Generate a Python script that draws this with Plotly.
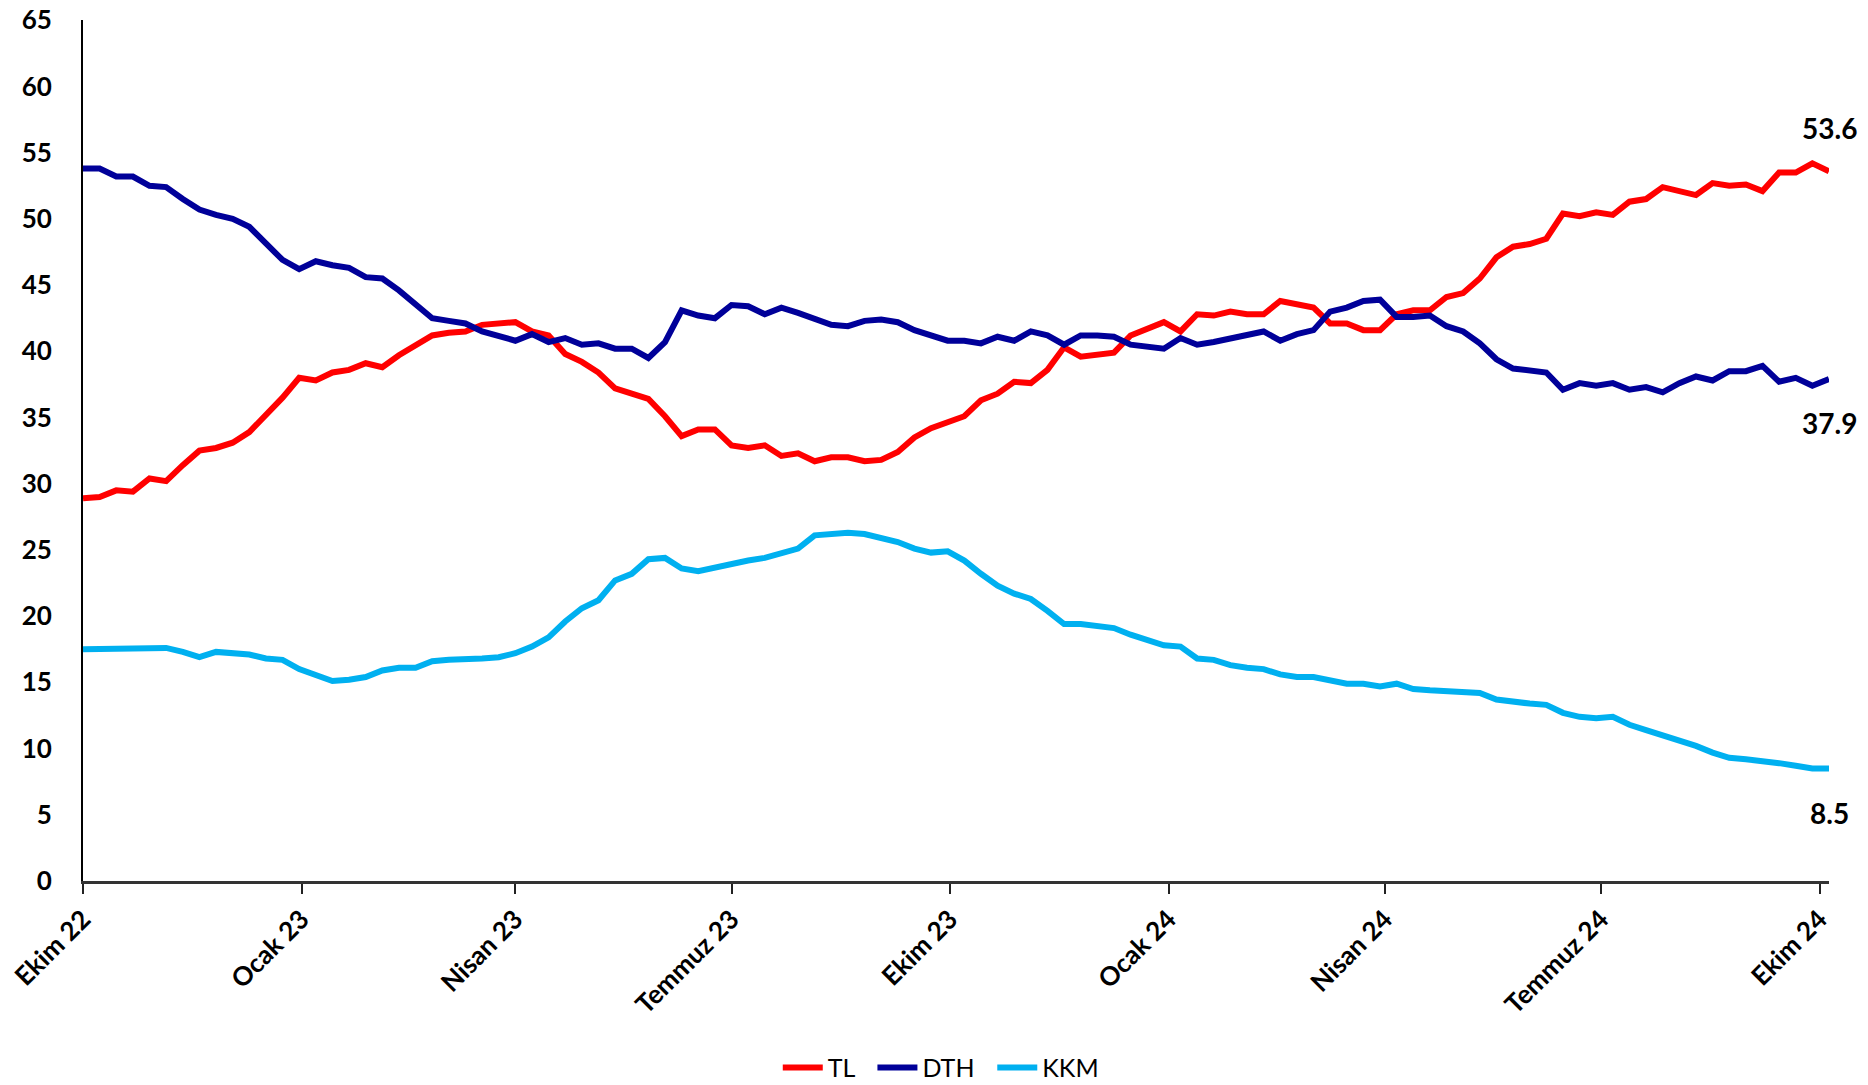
import pandas as pd
import plotly.graph_objects as go

# Weekly observations, Oct 2022 - Oct 2024 (share, %)
dates = pd.date_range("2022-10-01", periods=106, freq="7D")

tl = [28.9, 29.0, 29.5, 29.4, 30.4, 30.2, 31.4, 32.5, 32.7, 33.1, 33.9, 35.2, 36.5, 38.0, 37.8, 38.4,
      38.6, 39.1, 38.8, 39.7, 40.5, 41.2, 41.4, 41.5, 42.0, 42.1, 42.2,
      41.5, 41.2, 39.8, 39.2, 38.4, 37.2, 36.8, 36.4, 35.1, 33.6, 34.1, 34.1, 32.9, 32.7, 32.9,
      32.1, 32.3, 31.7, 32.0, 32.0, 31.7, 31.8, 32.4, 33.5, 34.2, 34.6,
      35.1, 36.3, 36.8, 37.7, 37.6, 38.6, 40.3, 39.6, 39.7, 39.9, 41.2, 41.7, 42.2, 41.5, 42.8,
      42.7, 43.0, 42.8, 42.8, 43.8, 43.5, 43.3, 42.1, 42.1, 41.6, 41.6,
      42.8, 43.1, 43.1, 44.1, 44.4, 45.5, 47.1, 47.9, 48.1, 48.5, 50.4, 50.2, 50.5, 50.3, 51.3,
      51.5, 52.4, 52.1, 51.8, 52.7, 52.5, 52.6, 52.1, 53.5, 53.5, 54.2, 53.6]

dth = [53.8, 53.8, 53.2, 53.2, 52.5, 52.4, 51.5, 50.7, 50.3, 50.0, 49.4, 48.2, 46.9, 46.2, 46.8, 46.5,
       46.3, 45.6, 45.5, 44.6, 43.6, 42.5, 42.3, 42.1, 41.5, 41.2, 40.8,
       41.3, 40.7, 41.0, 40.5, 40.6, 40.2, 40.2, 39.5, 40.7, 43.1, 42.7, 42.5, 43.5, 43.4, 42.8,
       43.3, 42.9, 42.4, 42.0, 41.9, 42.3, 42.4, 42.2, 41.6, 41.2, 40.8,
       40.8, 40.6, 41.1, 40.8, 41.5, 41.2, 40.5, 41.2, 41.2, 41.1, 40.5, 40.3, 40.2, 41.0, 40.5,
       40.7, 41.0, 41.3, 41.5, 40.8, 41.3, 41.6, 43.0, 43.3, 43.8, 43.9,
       42.6, 42.6, 42.7, 41.9, 41.5, 40.6, 39.4, 38.7, 38.6, 38.4, 37.1, 37.6, 37.4, 37.6, 37.1,
       37.3, 36.9, 37.6, 38.1, 37.8, 38.5, 38.5, 38.9, 37.7, 38.0, 37.4, 37.9]

kkm = [17.5, 17.5, 17.5, 17.6, 17.5, 17.6, 17.3, 16.9, 17.3, 17.2, 17.1, 16.8, 16.7, 16.0, 15.5, 15.1,
       15.2, 15.4, 15.9, 16.1, 16.1, 16.6, 16.7, 16.7, 16.8, 16.9, 17.2,
       17.7, 18.4, 19.6, 20.6, 21.2, 22.7, 23.2, 24.3, 24.4, 23.6, 23.4, 23.7, 23.9, 24.2, 24.4,
       24.8, 25.1, 26.1, 26.2, 26.3, 26.2, 25.9, 25.6, 25.1, 24.8, 24.9,
       24.2, 23.2, 22.3, 21.7, 21.3, 20.4, 19.4, 19.4, 19.2, 19.1, 18.6, 18.2, 17.8, 17.7, 16.8,
       16.7, 16.3, 16.1, 16.0, 15.6, 15.4, 15.4, 15.1, 14.9, 14.9, 14.7,
       14.9, 14.5, 14.4, 14.3, 14.3, 14.2, 13.7, 13.5, 13.4, 13.3, 12.7, 12.4, 12.3, 12.4, 11.8,
       11.4, 11.0, 10.7, 10.2, 9.7, 9.3, 9.2, 9.1, 8.9, 8.7, 8.5, 8.5]

tick_dates = ["2022-10-01", "2023-01-01", "2023-04-01", "2023-07-01", "2023-10-01",
              "2024-01-01", "2024-04-01", "2024-07-01", "2024-10-01"]
tick_labels = ["Ekim 22", "Ocak 23", "Nisan 23", "Temmuz 23", "Ekim 23",
               "Ocak 24", "Nisan 24", "Temmuz 24", "Ekim 24"]
y_ticks = [0, 5, 10, 15, 20, 25, 30, 35, 40, 45, 50, 55, 60, 65]

series = [("TL", tl, "#FF0000"), ("DTH", dth, "#000099"), ("KKM", kkm, "#00B0F0")]

fig = go.Figure()
for name, vals, col in series:
    fig.add_trace(go.Scatter(x=dates, y=vals, name=name + "\u00a0\u00a0", mode="lines",
                             line=dict(color=col, width=6)))

# end-value labels
end_shift = {"TL": 43, "DTH": -44, "KKM": -45}
for name, vals, col in series:
    fig.add_annotation(x=dates[-1], y=vals[-1], xref="x", yref="y",
                       text=f"{vals[-1]:.1f}", showarrow=False, yshift=end_shift[name],
                       font=dict(family="Lato", size=28, color="black", weight="bold"))

fig.update_layout(
    width=1868, height=1085,
    margin=dict(l=83, r=39, t=20, b=204, autoexpand=False),
    paper_bgcolor="white", plot_bgcolor="white",
    showlegend=True,
    legend=dict(orientation="h", x=0.495, y=-0.217, xanchor="center", yanchor="middle",
                font=dict(family="Lato", size=25, color="black"), itemwidth=40,
                bgcolor="rgba(0,0,0,0)"),
    font=dict(family="Lato"),
)

fig.update_xaxes(
    type="date", range=[dates[0], dates[-1]],
    tickvals=tick_dates, ticktext=tick_labels, tickangle=-45,
    tickfont=dict(family="Lato", size=26, color="black", weight="bold"),
    ticks="outside", ticklen=10, tickwidth=2, tickcolor="#222222",
    showline=True, linecolor="#333333", linewidth=2.5,
    showgrid=False, zeroline=False, automargin=False, ticklabeloverflow="allow",
)
fig.update_yaxes(
    range=[0, 65.02], tickvals=y_ticks,
    tickfont=dict(family="Lato", size=26, color="black", weight="bold"),
    ticks="", ticklabelstandoff=24,
    showline=True, linecolor="black", linewidth=2,
    showgrid=False, zeroline=False, automargin=False, ticklabeloverflow="allow",
)

fig.write_html("out.html", config={"displayModeBar": False},
               post_script="document.body.style.margin='0';document.body.style.overflow='hidden';")
